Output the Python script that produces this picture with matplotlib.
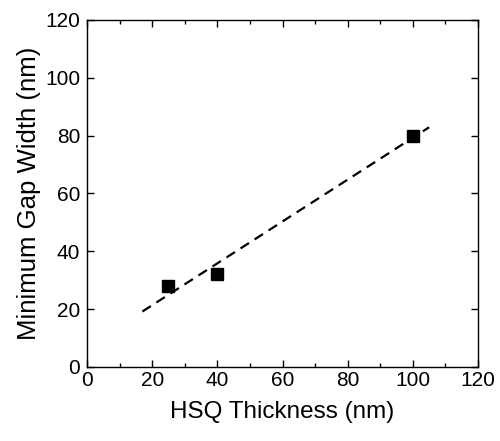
import numpy as np
import matplotlib
matplotlib.use("Agg")
import matplotlib.pyplot as plt
from matplotlib.ticker import MultipleLocator

plt.rcParams['font.family'] = ['Liberation Sans', 'DejaVu Sans']

# Datos
thickness = [25, 40, 100]
gap_width = [28, 32, 80]
fit_range = [17, 105]

slope, intercept = np.polyfit(thickness, gap_width, 1)
fit_x = np.array(fit_range)
fit_y = slope * fit_x + intercept

fig = plt.figure(figsize=(5, 4.41), dpi=100)
ax = fig.add_axes([0.174, 0.168, 0.782, 0.787])

ax.plot(fit_x, fit_y, color="black", linestyle=(0, (4.5, 3)), linewidth=1.6)
ax.plot(thickness, gap_width, linestyle="none", marker="s", markersize=8, color="black")

ax.set_xlim(0, 120)
ax.set_ylim(0, 120)
ax.xaxis.set_major_locator(MultipleLocator(20))
ax.xaxis.set_minor_locator(MultipleLocator(10))
ax.yaxis.set_major_locator(MultipleLocator(20))

ax.tick_params(which="both", direction="in", top=True, right=True, labelsize=15, width=1)
ax.tick_params(axis="x", pad=3)
ax.tick_params(axis="y", pad=5)
ax.tick_params(which="major", length=5)
ax.tick_params(which="minor", length=3)
for s in ax.spines.values():
    s.set_linewidth(1)

ax.set_xlabel("HSQ Thickness (nm)", fontsize=17.5, labelpad=8)
ax.set_ylabel("Minimum Gap Width (nm)", fontsize=18.5, labelpad=3)

fig.savefig("out.png", dpi=100)
